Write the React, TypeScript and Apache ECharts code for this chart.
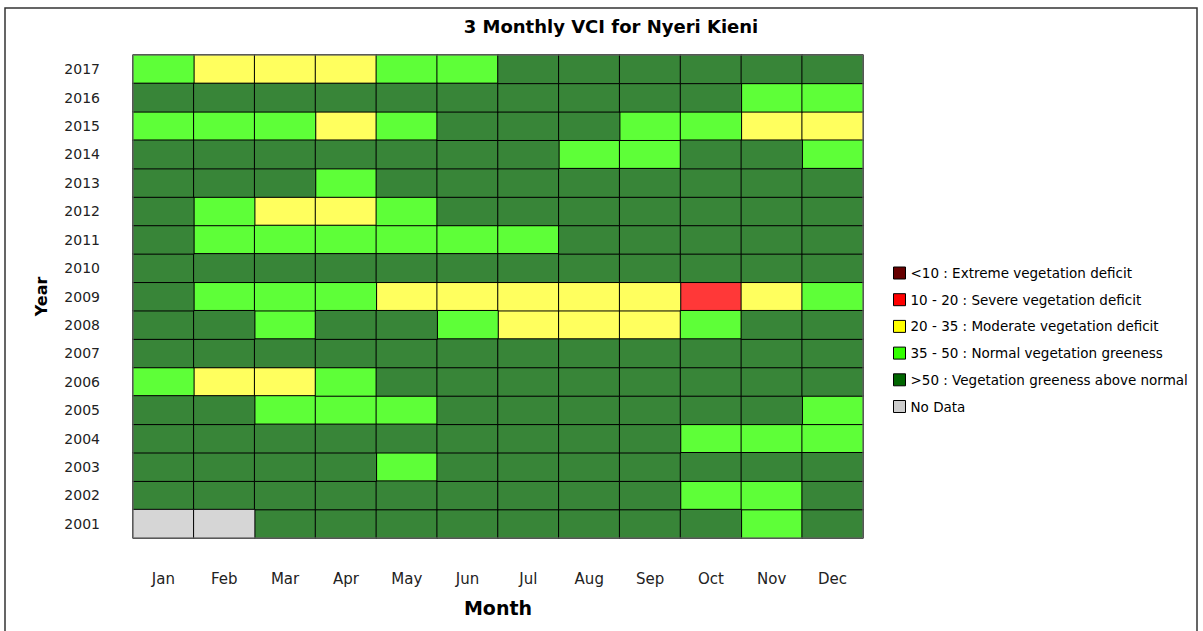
import React, { useEffect, useRef } from "react";
import * as echarts from "echarts";

const months = ["Jan", "Feb", "Mar", "Apr", "May", "Jun", "Jul", "Aug", "Sep", "Oct", "Nov", "Dec"];
const years = ["2001", "2002", "2003", "2004", "2005", "2006", "2007", "2008", "2009", "2010", "2011", "2012", "2013", "2014", "2015", "2016", "2017"];

// Estimated 3-monthly VCI, Jan..Dec (null = no data)
const vci2001 = [null, null, 62, 62, 62, 62, 62, 62, 62, 62, 43, 62];
const vci2002 = [62, 62, 62, 62, 62, 62, 62, 62, 62, 43, 43, 62];
const vci2003 = [62, 62, 62, 62, 43, 62, 62, 62, 62, 62, 62, 62];
const vci2004 = [62, 62, 62, 62, 62, 62, 62, 62, 62, 43, 43, 43];
const vci2005 = [62, 62, 43, 43, 43, 62, 62, 62, 62, 62, 62, 43];
const vci2006 = [43, 28, 28, 43, 62, 62, 62, 62, 62, 62, 62, 62];
const vci2007 = [62, 62, 62, 62, 62, 62, 62, 62, 62, 62, 62, 62];
const vci2008 = [62, 62, 43, 62, 62, 43, 28, 28, 28, 43, 62, 62];
const vci2009 = [62, 43, 43, 43, 28, 28, 28, 28, 28, 16, 28, 43];
const vci2010 = [62, 62, 62, 62, 62, 62, 62, 62, 62, 62, 62, 62];
const vci2011 = [62, 43, 43, 43, 43, 43, 43, 62, 62, 62, 62, 62];
const vci2012 = [62, 43, 28, 28, 43, 62, 62, 62, 62, 62, 62, 62];
const vci2013 = [62, 62, 62, 43, 62, 62, 62, 62, 62, 62, 62, 62];
const vci2014 = [62, 62, 62, 62, 62, 62, 62, 43, 43, 62, 62, 43];
const vci2015 = [43, 43, 43, 28, 43, 62, 62, 62, 43, 43, 28, 28];
const vci2016 = [62, 62, 62, 62, 62, 62, 62, 62, 62, 62, 43, 43];
const vci2017 = [43, 28, 28, 28, 43, 43, 62, 62, 62, 62, 62, 62];

const vciByYear = [
  vci2001, vci2002, vci2003, vci2004, vci2005, vci2006, vci2007, vci2008, vci2009,
  vci2010, vci2011, vci2012, vci2013, vci2014, vci2015, vci2016, vci2017,
];

const classNames = [
  "<10 : Extreme vegetation deficit",
  "10 - 20 : Severe vegetation deficit",
  "20 - 35 : Moderate vegetation deficit",
  "35 - 50 : Normal vegetation greeness",
  ">50 : Vegetation greeness above normal",
  "No Data",
];
const classUpperBounds = [10, 20, 35, 50];
const legendColors = ["#660000", "#ff0000", "#ffff00", "#33ff00", "#006600", "#cccccc"];
const cellColors = ["#853333", "#ff3838", "#ffff5e", "#5eff38", "#388538", "#d6d6d6"];

function classOf(v: number | null): number {
  if (v === null || v === undefined) return 5;
  for (let i = 0; i < classUpperBounds.length; i++) {
    if (v < classUpperBounds[i]) return i;
  }
  return 4;
}

export default function App() {
  const ref = useRef<HTMLDivElement>(null);
  useEffect(() => {
    document.body.style.margin = "0";
    if (!ref.current) return;
    const chart = echarts.init(ref.current, undefined, { renderer: "svg" });
    const buckets: any[][] = classNames.map(() => []);
    vciByYear.forEach((row, yi) => {
      row.forEach((v, xi) => {
        const c = classOf(v);
        buckets[c].push([xi, yi, c, v === null ? "-" : v]);
      });
    });
    const font = "'DejaVu Sans', Verdana, sans-serif";
    chart.setOption({
      animation: false,
      backgroundColor: "#fff",
      title: {
        text: "3 Monthly VCI for Nyeri Kieni",
        left: 606,
        textAlign: "center",
        top: 12,
        textStyle: { fontFamily: font, fontSize: 18, fontWeight: "bold", color: "#000" },
      },
      graphic: [
        {
          type: "rect",
          shape: { x: 5, y: 8, width: 1192, height: 640 },
          style: { fill: "none", stroke: "#333", lineWidth: 1.5 },
          z: 100,
        },
        {
          type: "rect",
          shape: { x: 133, y: 55, width: 730, height: 483 },
          style: { fill: "none", stroke: "#777", lineWidth: 1 },
          z: 100,
        },
      ],
      visualMap: {
        type: "piecewise",
        show: false,
        dimension: 2,
        pieces: cellColors.map((c, i) => ({ value: i, color: c })),
      },
      legend: {
        orient: "vertical",
        left: 888,
        top: 261,
        itemWidth: 12,
        itemHeight: 12,
        itemGap: 12.7,
        icon: "rect",
        textStyle: { fontFamily: font, fontSize: 13.5, lineHeight: 12, color: "#000" },
        selectedMode: false,
        data: classNames.map((n, i) => ({
          name: n,
          itemStyle: { color: legendColors[i], borderColor: "#000", borderWidth: 1 },
        })),
      },
      grid: { left: 133, top: 55, width: 730, height: 483 },
      xAxis: {
        type: "category",
        data: months,
        name: "Month",
        nameLocation: "middle",
        nameGap: 60,
        nameTextStyle: { fontFamily: font, fontSize: 19, fontWeight: "bold", color: "#000" },
        axisLine: { show: false },
        axisTick: { show: false },
        axisLabel: { margin: 33, fontFamily: font, fontSize: 15, color: "#222" },
        splitLine: { show: false },
      },
      yAxis: {
        type: "category",
        data: years,
        name: "Year",
        nameLocation: "middle",
        nameGap: 84,
        nameRotate: 90,
        nameTextStyle: { fontFamily: font, fontSize: 16, fontWeight: "bold", color: "#000" },
        axisLine: { show: false },
        axisTick: { show: false },
        axisLabel: { margin: 33, fontFamily: font, fontSize: 14, color: "#222" },
        splitLine: { show: false },
      },
      series: classNames.map((n, i) => ({
        name: n,
        type: "heatmap",
        data: buckets[i],
        itemStyle: { color: cellColors[i], borderColor: "#000", borderWidth: 1 },
        emphasis: { disabled: true },
      })),
    });
    return () => chart.dispose();
  }, []);
  return <div ref={ref} style={{ width: 1203, height: 631 }} />;
}
